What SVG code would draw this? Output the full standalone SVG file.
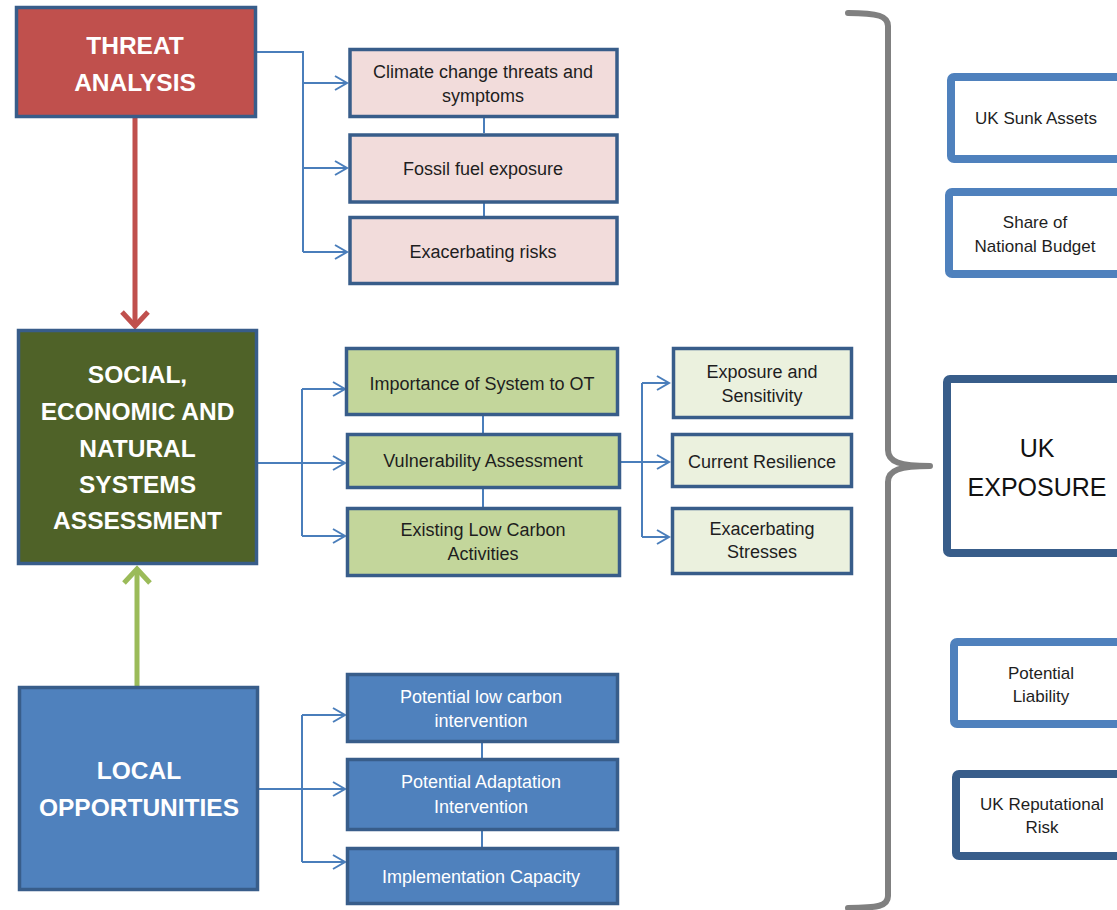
<svg xmlns="http://www.w3.org/2000/svg" width="1117" height="910" viewBox="0 0 1117 910">
<defs>
<style>
.hdr{font-family:"Liberation Sans",Arial,sans-serif;font-weight:bold;font-size:24.5px;fill:#ffffff;text-anchor:middle}
.lbl{font-family:"Liberation Sans",Arial,sans-serif;font-size:18px;fill:#1e1e1e;text-anchor:middle}
.lblw{font-family:"Liberation Sans",Arial,sans-serif;font-size:18px;fill:#ffffff;text-anchor:middle}
.rlbl{font-family:"Liberation Sans",Arial,sans-serif;font-size:17px;fill:#1e1e1e;text-anchor:middle}
.big{font-family:"Liberation Sans",Arial,sans-serif;font-size:25px;fill:#111111;text-anchor:middle}
.box{stroke:#385d8a;stroke-width:3.5}
.pink{fill:#f2dcdb}
.green{fill:#c3d69b}
.light{fill:#ebf1de}
.blue{fill:#4f81bd}
.rbox{fill:#ffffff;stroke-width:8}
.conn{fill:none;stroke:#4a7ebb;stroke-width:2}
.arr{fill:none;stroke:#4a7ebb;stroke-width:2;marker-end:url(#chev)}
</style>
<marker id="chev" markerUnits="userSpaceOnUse" markerWidth="16" markerHeight="18" refX="13" refY="8" orient="auto">
<path d="M1,1 L13,8 L1,15" fill="none" stroke="#4a7ebb" stroke-width="2"/>
</marker>
</defs>
<rect width="1117" height="910" fill="#ffffff"/>

<g id="connectors">
<path class="conn" d="M257,52 H303 V252"/>
<path class="arr" d="M303,83 H347"/>
<path class="arr" d="M303,168 H347"/>
<path class="arr" d="M303,252 H347"/>
<path class="conn" d="M484,118 V133 M484,203 V216"/>

<path class="arr" d="M258,463 H345"/>
<path class="conn" d="M302,389 V536"/>
<path class="arr" d="M302,389 H345"/>
<path class="arr" d="M302,536 H345"/>
<path class="conn" d="M483,416 V433 M483,489 V507"/>

<path class="arr" d="M621,462 H669"/>
<path class="conn" d="M642,383 V537"/>
<path class="arr" d="M642,383 H669"/>
<path class="arr" d="M642,537 H669"/>

<path class="arr" d="M259,789 H345"/>
<path class="conn" d="M302,715 V862"/>
<path class="arr" d="M302,715 H345"/>
<path class="arr" d="M302,862 H345"/>
<path class="conn" d="M482,743 V758 M482,831 V847"/>

<path d="M135,118 V326" fill="none" stroke="#c0504d" stroke-width="5"/>
<polyline points="122,312 135,326 148,312" fill="none" stroke="#c0504d" stroke-width="5"/>
<path d="M137,686 V569" fill="none" stroke="#9bbb59" stroke-width="5"/>
<polyline points="124,583 137,569 150,583" fill="none" stroke="#9bbb59" stroke-width="5"/>

<path d="M848,13 C878,13 888,16 888,26 V450 C888,462 900,466 930,466 C900,466 888,470 888,482 V896 C888,906 878,908 848,908" fill="none" stroke="#808080" stroke-width="6" stroke-linecap="round" stroke-linejoin="round"/>
</g>

<g id="threat-analysis">
<rect class="box" x="16.5" y="7.5" width="239" height="109" fill="#c0504d"/>
<text class="hdr" x="135" y="54">THREAT</text>
<text class="hdr" x="135" y="91">ANALYSIS</text>
</g>

<g id="systems-assessment">
<rect class="box" x="18.5" y="330.5" width="238" height="233" fill="#4f6228"/>
<text class="hdr" x="137.5" y="383">SOCIAL,</text>
<text class="hdr" x="137.5" y="420">ECONOMIC AND</text>
<text class="hdr" x="137.5" y="457">NATURAL</text>
<text class="hdr" x="137.5" y="493">SYSTEMS</text>
<text class="hdr" x="137.5" y="529">ASSESSMENT</text>
</g>

<g id="local-opportunities">
<rect class="box" x="19.5" y="687.5" width="238" height="202" fill="#4f81bd"/>
<text class="hdr" x="139" y="779">LOCAL</text>
<text class="hdr" x="139" y="816">OPPORTUNITIES</text>
</g>

<g id="climate-threats">
<rect class="box pink" x="350" y="49.5" width="267" height="67"/>
<text class="lbl" x="483" y="78">Climate change threats and</text>
<text class="lbl" x="483" y="102">symptoms</text>
</g>
<g id="fossil-fuel">
<rect class="box pink" x="350" y="135" width="267" height="67"/>
<text class="lbl" x="483" y="175">Fossil fuel exposure</text>
</g>
<g id="exacerbating-risks">
<rect class="box pink" x="350" y="217.5" width="267" height="66"/>
<text class="lbl" x="483" y="258">Exacerbating risks</text>
</g>

<g id="importance">
<rect class="box green" x="346.5" y="348.5" width="271" height="66"/>
<text class="lbl" x="482" y="390">Importance of System to OT</text>
</g>
<g id="vulnerability">
<rect class="box green" x="347.5" y="434.5" width="272" height="53"/>
<text class="lbl" x="483" y="467">Vulnerability Assessment</text>
</g>
<g id="existing-low-carbon">
<rect class="box green" x="347.5" y="508.5" width="272" height="67"/>
<text class="lbl" x="483" y="536">Existing Low Carbon</text>
<text class="lbl" x="483" y="560">Activities</text>
</g>

<g id="exposure-sensitivity">
<rect class="box light" x="673.5" y="348.5" width="178" height="69"/>
<text class="lbl" x="762" y="378">Exposure and</text>
<text class="lbl" x="762" y="402">Sensitivity</text>
</g>
<g id="current-resilience">
<rect class="box light" x="672.5" y="434.5" width="179" height="52"/>
<text class="lbl" x="762" y="468">Current Resilience</text>
</g>
<g id="exacerbating-stresses">
<rect class="box light" x="672.5" y="508.5" width="179" height="65"/>
<text class="lbl" x="762" y="535">Exacerbating</text>
<text class="lbl" x="762" y="558">Stresses</text>
</g>

<g id="low-carbon-intervention">
<rect class="box blue" x="347.5" y="674.5" width="270" height="67"/>
<text class="lblw" x="481" y="703">Potential low carbon</text>
<text class="lblw" x="481" y="727">intervention</text>
</g>
<g id="adaptation-intervention">
<rect class="box blue" x="347.5" y="759.5" width="270" height="70"/>
<text class="lblw" x="481" y="788">Potential Adaptation</text>
<text class="lblw" x="481" y="813">Intervention</text>
</g>
<g id="implementation-capacity">
<rect class="box blue" x="347.5" y="848.5" width="270" height="55"/>
<text class="lblw" x="481" y="883">Implementation Capacity</text>
</g>

<g id="uk-sunk-assets">
<rect class="rbox" x="951" y="77" width="190" height="82" rx="3" stroke="#4f81bd"/>
<text class="rlbl" x="1036" y="124">UK Sunk Assets</text>
</g>
<g id="national-budget">
<rect class="rbox" x="949" y="192" width="190" height="82" rx="3" stroke="#4f81bd"/>
<text class="rlbl" x="1035" y="228">Share of</text>
<text class="rlbl" x="1035" y="252">National Budget</text>
</g>
<g id="uk-exposure">
<rect class="rbox" x="947" y="379" width="190" height="174" rx="3" stroke="#385d8a"/>
<text class="big" x="1037" y="457">UK</text>
<text class="big" x="1037" y="496">EXPOSURE</text>
</g>
<g id="potential-liability">
<rect class="rbox" x="954" y="642" width="190" height="82" rx="3" stroke="#4f81bd"/>
<text class="rlbl" x="1041" y="679">Potential</text>
<text class="rlbl" x="1041" y="702">Liability</text>
</g>
<g id="reputational-risk">
<rect class="rbox" x="956" y="774" width="190" height="82" rx="3" stroke="#385d8a"/>
<text class="rlbl" x="1042" y="810">UK Reputational</text>
<text class="rlbl" x="1042" y="833">Risk</text>
</g>
</svg>
